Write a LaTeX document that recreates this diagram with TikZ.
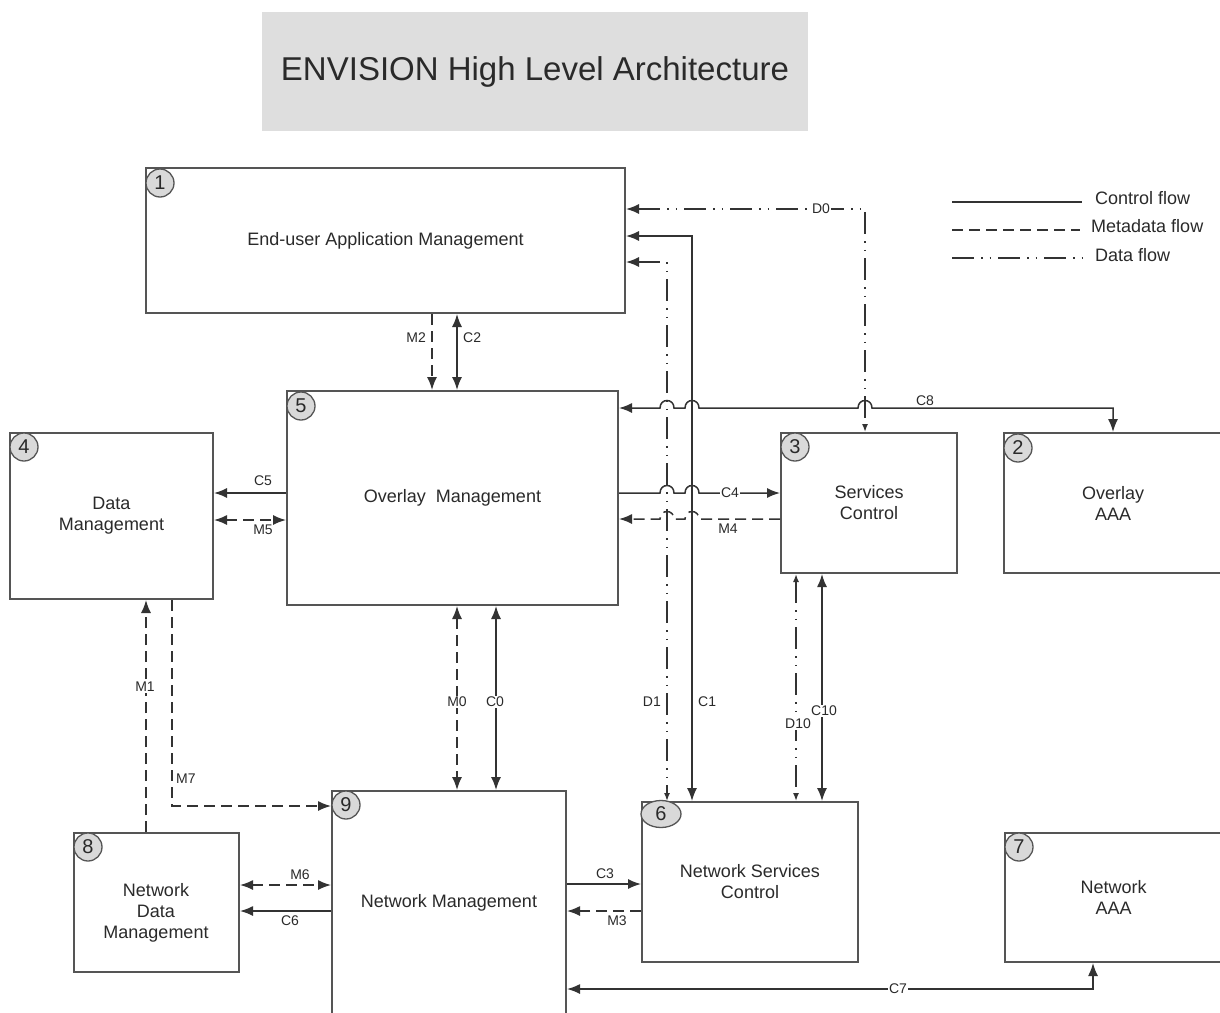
\documentclass[tikz,border=0pt]{standalone}
\usepackage{fontspec}
\setmainfont{Liberation Sans}
\usetikzlibrary{arrows.meta,shapes.geometric}
\definecolor{lc}{HTML}{333333}
\definecolor{bc}{HTML}{555555}
\definecolor{tc}{HTML}{2A2A2A}
\definecolor{cf}{HTML}{D9D9D9}
\definecolor{tf}{HTML}{DEDEDE}
\tikzset{
 BT/.tip={Latex[length=13pt,width=10pt]},
 ST/.tip={Latex[length=8pt,width=6pt]},
 box/.style={draw=bc,line width=2pt,fill=white,align=center,text=tc,font=\fontsize{18}{21}\selectfont,inner sep=0pt},
 btxt/.style={align=center,text=tc,font=\fontsize{18}{21}\selectfont,inner sep=0pt},
 numc/.style={circle,draw=bc,line width=1.3pt,fill=cf,minimum size=28pt,inner sep=0pt,text=tc,font=\fontsize{20}{20}\selectfont},
 ctl/.style={draw=lc,line width=1.5pt},
 meta/.style={ctl,dash pattern=on 11pt off 6pt},
 dat/.style={ctl,dash pattern=on 22pt off 7pt on 1.5pt off 7pt on 1.5pt off 7pt},
 lbl/.style={text=tc,font=\fontsize{14}{16}\selectfont,inner sep=1pt},
 lblw/.style={lbl,fill=white},
 leg/.style={text=tc,font=\fontsize{18}{21}\selectfont,inner sep=0pt,anchor=west}
}
\begin{document}
\begin{tikzpicture}[x=1pt,y=-1pt]
\useasboundingbox (0,0) rectangle (1220,1012);
\clip (0,0) rectangle (1220,1012);
\fill[white] (0,0) rectangle (1220,1012);
% title
\node[fill=tf,minimum width=546pt,minimum height=119pt,inner sep=0pt,text=tc,font=\fontsize{33}{36}\selectfont] (title) at (535,71.5) {ENVISION High Level Architecture};
% boxes
\node[box,minimum width=479pt,minimum height=145pt] (b1) at (385.5,240.5) {End-user Application Management};
\node[box,minimum width=331pt,minimum height=214pt] (b5) at (452.5,498) {Overlay\ \ Management};
\node[box,minimum width=203pt,minimum height=166pt] (b4) at (111.5,516) {Data\\Management};
\node[box,minimum width=176pt,minimum height=140pt] (b3) at (869,503) {Services\\Control};
\node[box,minimum width=218pt,minimum height=140pt] (b2) at (1113,503) {Overlay\\AAA};
\node[box,minimum width=234pt,minimum height=223pt] (b9) at (449,902.5) {Network Management};
\node[box,minimum width=165pt,minimum height=139pt] (b8) at (156.5,902.5) {};
\node[btxt] (t8) at (156,913) {Network\\Data\\Management};
\node[box,minimum width=216pt,minimum height=160pt] (b6) at (750,882) {Network Services\\Control};
\node[box,minimum width=217pt,minimum height=129pt] (b7) at (1113.5,897.5) {Network\\AAA};
% number circles
\node[numc] (n1) at ([shift={(15,16)}]b1.north west) {1};
\node[numc] (n5) at ([shift={(15,16)}]b5.north west) {5};
\node[numc] (n4) at ([shift={(15,15)}]b4.north west) {4};
\node[numc] (n3) at ([shift={(15,15)}]b3.north west) {3};
\node[numc] (n2) at ([shift={(15,16)}]b2.north west) {2};
\node[numc] (n9) at ([shift={(15,15)}]b9.north west) {9};
\node[numc] (n8) at ([shift={(15,15)}]b8.north west) {8};
\node[numc,ellipse,minimum width=40pt,minimum height=27pt] (n6) at ([shift={(20,13)}]b6.north west) {6};
\node[numc] (n7) at ([shift={(15,15)}]b7.north west) {7};
% legend
\draw[ctl] (952,202) -- (1082,202);
\node[leg] (lg1) at (1095,198) {Control flow};
\draw[meta] (952,230) -- (1080,230);
\node[leg] (lg2) at (1091,226) {Metadata flow};
\draw[dat] (952,258) -- (1084,258);
\node[leg] (lg3) at (1095,255) {Data flow};
% vertical connectors first
\draw[dat,{BT}-{ST}] (b1.east |- 0,209) -- (865,209) -- (b3.north -| 865,0);
\node[lblw] (lD0) at (821,209) {D0};
\draw[ctl,{BT}-{BT}] (b1.east |- 0,236) -- (692,236) -- (b6.north -| 692,0);
\node[lbl,anchor=west] (lC1) at (697,702) {C1};
\draw[dat,{BT}-{ST}] (b1.east |- 0,262) -- (667,262) -- (b6.north -| 667,0);
\node[lbl,anchor=east] (lD1) at (662,702) {D1};
% horizontal with hops
\draw[ctl,{BT}-{BT}] (b5.east |- 0,408) -- (660,408) .. controls (660,398) and (674,398) .. (674,408) -- (685,408) .. controls (685,398) and (699,398) .. (699,408) -- (858,408) .. controls (858,398) and (872,398) .. (872,408) -- (1113,408) -- (b2.north -| 1113,0);
\node[lbl,anchor=south] (lC8) at (925,407) {C8};
\draw[ctl,-{BT}] (b5.east |- 0,493) -- (660,493) .. controls (660,483) and (674,483) .. (674,493) -- (685,493) .. controls (685,483) and (699,483) .. (699,493) -- (b3.west |- 0,493);
\node[lblw] (lC4) at (730,493) {C4};
\draw[meta,-{BT}] (b3.west |- 0,519) -- (699,519) .. controls (699,509) and (685,509) .. (685,519) -- (674,519) .. controls (674,509) and (660,509) .. (660,519) -- (b5.east |- 0,519);
\node[lbl,anchor=north] (lM4) at (728,523) {M4};
% b1 - b5
\draw[meta,-{BT}] (b1.south -| 432,0) -- (b5.north -| 432,0);
\node[lbl,anchor=east] (lM2) at (427,338) {M2};
\draw[ctl,{BT}-{BT}] (b1.south -| 457,0) -- (b5.north -| 457,0);
\node[lbl,anchor=west] (lC2) at (462,338) {C2};
% b5 - b4
\draw[ctl,-{BT}] (b5.west |- 0,493) -- (b4.east |- 0,493);
\node[lbl,anchor=south] (lC5) at (263,487) {C5};
\draw[meta,{BT}-{BT}] (b4.east |- 0,520) -- (b5.west |- 0,520);
\node[lbl,anchor=north] (lM5) at (263,524) {M5};
% b8/b4/b9
\draw[meta,-{BT}] (b8.north -| 146,0) -- (b4.south -| 146,0);
\node[lblw] (lM1) at (145,687) {M1};
\draw[meta,-{BT}] (b4.south -| 172,0) -- (172,806) -- (b9.west |- 0,806);
\node[lbl,anchor=west] (lM7) at (175,779) {M7};
% b5 - b9
\draw[meta,{BT}-{BT}] (b5.south -| 457,0) -- (b9.north -| 457,0);
\node[lblw] (lM0) at (457,702) {M0};
\draw[ctl,{BT}-{BT}] (b5.south -| 496,0) -- (b9.north -| 496,0);
\node[lblw] (lC0) at (495,702) {C0};
% b3 - b6
\draw[dat,{ST}-{ST}] (b3.south -| 796,0) -- (b6.north -| 796,0);
\node[lblw] (lD10) at (798,724) {D10};
\draw[ctl,{BT}-{BT}] (b3.south -| 822,0) -- (b6.north -| 822,0);
\node[lblw] (lC10) at (824,711) {C10};
% b8 - b9
\draw[meta,{BT}-{BT}] (b8.east |- 0,885) -- (b9.west |- 0,885);
\node[lbl,anchor=south] (lM6) at (300,881) {M6};
\draw[ctl,-{BT}] (b9.west |- 0,911) -- (b8.east |- 0,911);
\node[lbl,anchor=north] (lC6) at (290,915) {C6};
% b9 - b6
\draw[ctl,-{BT}] (b9.east |- 0,884) -- (b6.west |- 0,884);
\node[lbl,anchor=south] (lC3) at (605,880) {C3};
\draw[meta,-{BT}] (b6.west |- 0,911) -- (b9.east |- 0,911);
\node[lbl,anchor=north] (lM3) at (617,915) {M3};
% b7 - b9
\draw[ctl,{BT}-{BT}] (b7.south -| 1093,0) -- (1093,989) -- (b9.east |- 0,989);
\node[lblw] (lC7) at (898,989) {C7};
\end{tikzpicture}
\end{document}
